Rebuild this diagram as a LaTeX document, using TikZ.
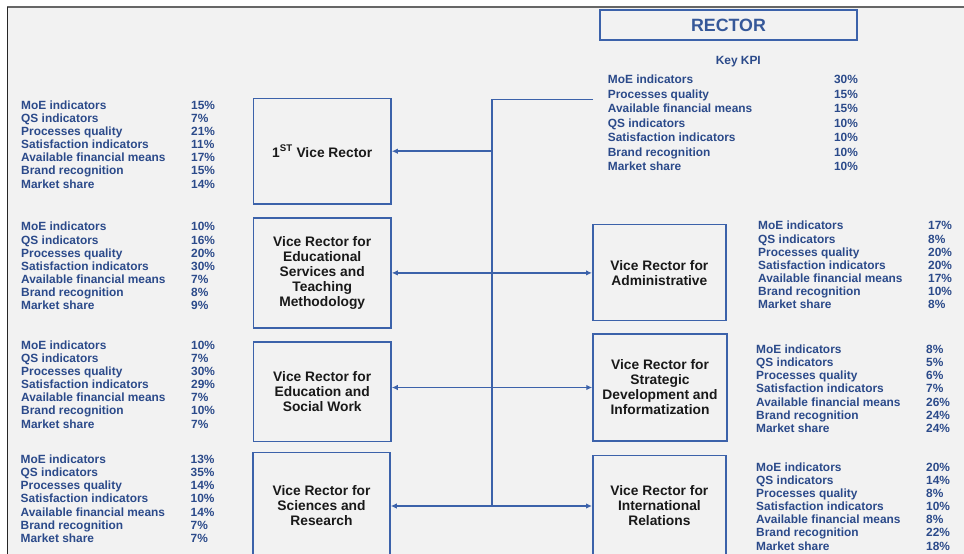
\documentclass[tikz,border=0pt]{standalone}
\usepackage{fontspec}
\setmainfont{Liberation Sans}
\usetikzlibrary{arrows.meta}
\definecolor{kpiblue}{RGB}{43,74,138}
\definecolor{boxblue}{RGB}{60,98,170}
\definecolor{paper}{RGB}{242,242,242}

\tikzset{
  vrbox/.style={draw=boxblue, line width=1.5pt, inner sep=2pt, align=center,
    text=black!90, font=\bfseries\fontsize{13.8}{15}\selectfont},
  kpi/.style={inner sep=0pt, anchor=base west, text=kpiblue,
    font=\bfseries\fontsize{11.9}{13.15}\selectfont},
  link/.style={draw=boxblue, line width=1.5pt},
  tip/.style={-{Latex[length=6pt,width=5.5pt]}},
  tips/.style={{Latex[length=6pt,width=5.5pt]}-{Latex[length=6pt,width=5.5pt]}}
}

% seven kpi rows, values only
\newcommand{\kpilist}[7]{\begin{tabular}[t]{@{}p{170pt}@{}l@{}}
MoE indicators & #1\%\\
QS indicators & #2\%\\
Processes quality & #3\%\\
Satisfaction indicators & #4\%\\
Available financial means & #5\%\\
Brand recognition & #6\%\\
Market share & #7\%
\end{tabular}}

\begin{document}
\begin{tikzpicture}[x=1pt,y=-1pt]
\clip (0,0) rectangle (964,554);
\fill[white] (0,0) rectangle (964,554);
\fill[paper] (7,7) rectangle (964,554);
\draw[black!60, line width=2pt] (7,7) -- (964,7);
\draw[black!85, line width=1.5pt] (7.5,7) -- (7.5,554);

%rector
\node[vrbox, minimum width=257pt, minimum height=30pt, text=boxblue!90!black,
  font=\bfseries\fontsize{17.8}{20}\selectfont] (rector) at (728.5,25) {RECTOR};
\node[kpi, anchor=base] (keykpi) at (738.3,64.9) {Key KPI};
\node[kpi, font=\bfseries\fontsize{11.9}{14.57}\selectfont] (kpiR) at (607.7,83.5)
  {\begin{tabular*}{250pt}[t]{@{\extracolsep{\fill}}lr@{}}
  MoE indicators & 30\%\\
  Processes quality & 15\%\\
  Available financial means & 15\%\\
  QS indicators & 10\%\\
  Satisfaction indicators & 10\%\\
  Brand recognition & 10\%\\
  Market share & 10\%
  \end{tabular*}};

% left side
\node[vrbox, minimum width=137.7pt, minimum height=105.7pt] (vr1) at (322.2,151.2)
  {1\textsuperscript{ST} Vice Rector};
\node[vrbox, minimum width=137.7pt, minimum height=110.3pt] (vr2) at (322.2,272.9)
  {Vice Rector for\\Educational\\Services and\\Teaching\\Methodology};
\node[vrbox, minimum width=137.7pt, minimum height=99.3pt] (vr3) at (322.2,391.7)
  {Vice Rector for\\Education and\\Social Work};
\node[vrbox, minimum width=137pt, minimum height=106.6pt] (vr4) at (321.5,506)
  {Vice Rector for\\Sciences and\\Research};

\node[kpi] (kpi1) at (21,109.2) {\kpilist{15}{7}{21}{11}{17}{15}{14}};
\node[kpi] (kpi2) at (21,230.9) {\kpilist{10}{16}{20}{30}{7}{8}{9}};
\node[kpi] (kpi3) at (21,349.2) {\kpilist{10}{7}{30}{29}{7}{10}{7}};
\node[kpi] (kpi4) at (20.5,463.5) {\kpilist{13}{35}{14}{10}{14}{7}{7}};

% right side
\node[vrbox, minimum width=133.3pt, minimum height=96pt] (admin) at (659.4,272.7)
  {Vice Rector for\\Administrative};
\node[vrbox, minimum width=134pt, minimum height=107pt] (strat) at (660,387.5)
  {Vice Rector for\\Strategic\\Development and\\Informatization};
\node[vrbox, minimum width=133.3pt, minimum height=100.6pt] (intl) at (659.4,506)
  {Vice Rector for\\International\\Relations};

\node[kpi] (kpiA) at (758,229.9) {\kpilist{17}{8}{20}{20}{17}{10}{8}};
\node[kpi] (kpiS) at (756,353.5) {\kpilist{8}{5}{6}{7}{26}{24}{24}};
\node[kpi] (kpiI) at (756,471.2) {\kpilist{20}{14}{8}{10}{8}{22}{18}};

% connectors
\coordinate (kpiend) at (593,99.3);
\coordinate (trunk) at (491.8,99.3);
\draw[link] (kpiend) -- (trunk) -- (trunk |- intl.west);
\draw[link,tip] (trunk |- vr1.east) -- (vr1.east);
\draw[link,tips] (vr2.east) -- (vr2.east -| admin.west);
\draw[link,tips] (vr3.east |- strat.west) -- (strat.west);
\draw[link,tips] (vr4.east |- intl.west) -- (intl.west);
\end{tikzpicture}
\end{document}
